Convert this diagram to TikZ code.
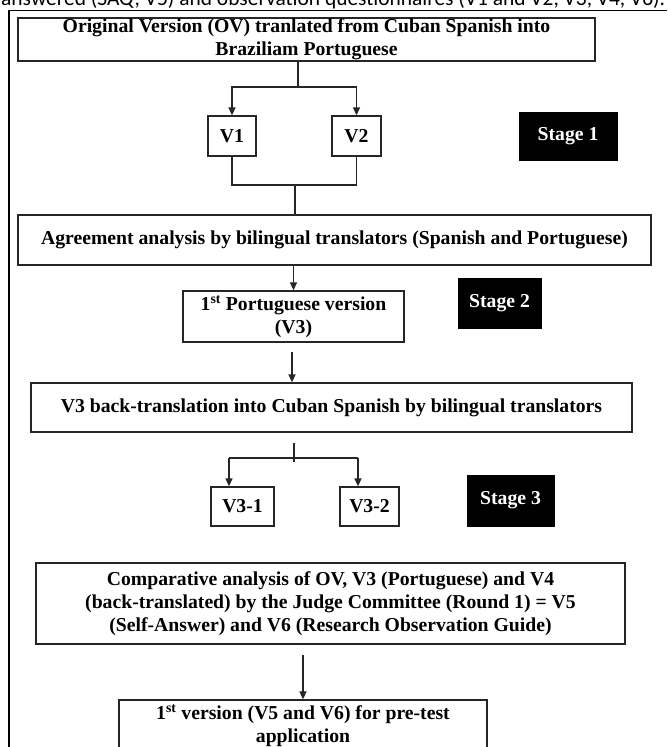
\documentclass[tikz,border=0pt]{standalone}
\usepackage{fontspec}
\usepackage{graphicx}
\setmainfont{Liberation Serif}
\newfontfamily\capfont{Carlito}
\usetikzlibrary{arrows.meta}
\begin{document}
\begin{tikzpicture}[x=1pt,y=-1pt,
  box/.style={draw=black!85, line width=1.3pt, inner sep=0pt, align=center,
    font=\fontsize{19.7}{23}\selectfont\bfseries},
  stagebox/.style={fill=black, draw=black, text=white, inner sep=0pt,
    font=\fontsize{19.7}{23}\selectfont\bfseries},
  ln/.style={line width=1.3pt, draw=black!85},
  arr/.style={ln, -{Triangle[length=8pt,width=7pt]}}]
\useasboundingbox (0,0) rectangle (667,747);
% caption remnant
\node[anchor=base west, inner sep=0pt] (cap) at (1,5.5)
  {\resizebox{664pt}{!}{\capfont answered (SAQ, V5) and observation questionnaires (V1 and V2, V3, V4, V6).}};
% frame
\coordinate (fr1) at (667,10.5);
\coordinate (fr2) at (9,10.5);
\coordinate (fr3) at (9,747);
\draw[line width=1.1pt] (fr1) -- (fr2) -- (fr3);
% boxes
\node[box, minimum width=577pt, minimum height=43pt] (b1) at (306.5,39.5)
  {Original Version (OV) tranlated from Cuban Spanish into\\Braziliam Portuguese};
\node[box, minimum width=48pt, minimum height=40pt] (v1) at (232,136) {V1};
\node[box, minimum width=49pt, minimum height=40pt] (v2) at (356.5,136) {V2};
\node[stagebox, minimum width=98pt, minimum height=48pt] (s1) at (568,136) {Stage 1};
\node[box, minimum width=633pt, minimum height=50pt] (agr) at (334.5,240)
  {Agreement analysis by bilingual translators (Spanish and Portuguese)};
\node[box, minimum width=221pt, minimum height=51pt] (p1) at (293.5,316.5)
  {1\textsuperscript{st} Portuguese version\\(V3)};
\node[stagebox, minimum width=83pt, minimum height=50pt] (s2) at (499.5,303) {Stage 2};
\node[box, minimum width=601pt, minimum height=49pt] (bt) at (331.5,407.5)
  {V3 back-translation into Cuban Spanish by bilingual translators};
\node[box, minimum width=63pt, minimum height=39pt] (v31) at (242.5,506.5) {V3-1};
\node[box, minimum width=59pt, minimum height=39pt] (v32) at (369.5,506.5) {V3-2};
\node[stagebox, minimum width=87pt, minimum height=51pt] (s3) at (510.5,500.5) {Stage 3};
\node[box, minimum width=589pt, minimum height=81pt] (cmp) at (330.5,603.5)
  {Comparative analysis of OV, V3 (Portuguese) and V4\\(back-translated) by the Judge Committee (Round 1) = V5\\(Self-Answer) and V6 (Research Observation Guide)};
\node[box, minimum width=368pt, minimum height=51pt] (fin) at (303,725.5)
  {1\textsuperscript{st} version (V5 and V6) for pre-test\\application};
% connectors stage 1
\coordinate (j1) at (298,87);
\draw[ln] (j1 |- b1.south) -- (j1);
\draw[arr] (j1) -| (v1.north);
\draw[arr] (j1) -| (v2.north);
\coordinate (j2) at (295,185);
\draw[ln] (v1.south) |- (j2) -| (v2.south);
\draw[ln] (j2) -- (j2 |- agr.north);
% stage 2
\draw[arr] (p1.north |- agr.south) -- (p1.north);
\coordinate (a2) at (292,352);
\draw[arr] (a2) -- (a2 |- bt.north);
% stage 3
\coordinate (t) at (294,443);
\coordinate (tb) at (294,462);
\coordinate (h1) at (229,458);
\coordinate (h2) at (358,458);
\draw[ln] (t) -- (tb);
\draw[ln] (h1) -- (h2);
\draw[arr] (h1) -- (h1 |- v31.north);
\draw[arr] (h2) -- (h2 |- v32.north);
\coordinate (a3) at (303,655);
\draw[arr] (a3) -- (fin.north);
\end{tikzpicture}
\end{document}
